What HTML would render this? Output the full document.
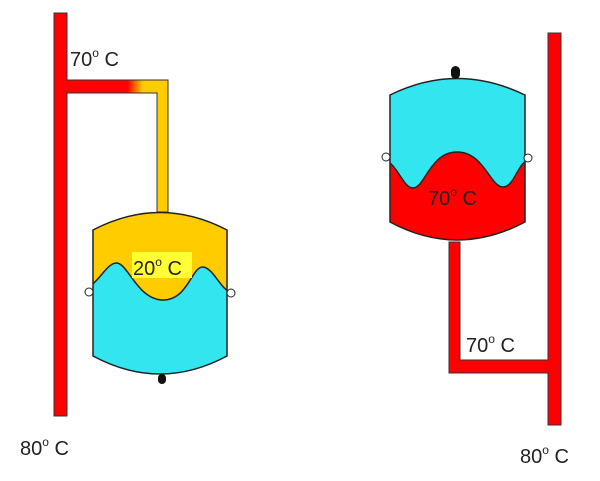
<!DOCTYPE html>
<html><head><style>body{margin:0;background:#fff}svg{display:block}</style></head>
<body>
<svg width="600" height="481" viewBox="0 0 600 481" xmlns="http://www.w3.org/2000/svg" font-family="Liberation Sans, sans-serif">
<defs>
<linearGradient id="g" x1="0" x2="1" y1="0" y2="0">
<stop offset="0" stop-color="#ff0000"/><stop offset="0.6" stop-color="#ff0000"/><stop offset="0.75" stop-color="#ffcc00"/><stop offset="1" stop-color="#ffcc00"/></linearGradient>
<clipPath id="lt"><path d="M93,230 Q160,195 227,230 L227,356 Q160,392 93,356 Z"/></clipPath>
<clipPath id="rt"><path d="M390,95 Q457,62 525,95 L525,222 Q457,258 390,222 Z"/></clipPath>
</defs>
<!-- left side -->
<path d="M54,13 H67 V80 H168 V212 H157 V93 H67 V416 H54 Z" fill="#ff0000" stroke="#333" stroke-width="1"/>
<rect x="67.5" y="80.5" width="100" height="12" fill="url(#g)"/>
<rect x="157.5" y="80.5" width="10" height="131" fill="#ffcc00"/>
<g clip-path="url(#lt)">
<rect x="90" y="200" width="140" height="180" fill="#ffcc00"/>
<path d="M90,286 C100,280 108,262 117,263 C128,264 138,300 163,300 C188,300 192,266 203,267 C213,268 220,288 230,292 L230,380 L90,380 Z" fill="#33e5ef" stroke="#222" stroke-width="1.5"/>
</g>
<path d="M93,230 Q160,195 227,230 L227,356 Q160,392 93,356 Z" fill="none" stroke="#222" stroke-width="1.5"/>
<ellipse cx="89" cy="292" rx="4" ry="4" fill="#fff" stroke="#222"/>
<ellipse cx="231" cy="293" rx="4" ry="4" fill="#fff" stroke="#222"/>
<rect x="158" y="374" width="8" height="10" rx="4" fill="#111"/>
<rect x="132" y="252" width="60" height="26" fill="#ffff33"/>
<text x="133" y="275" font-size="20" fill="#222">20<tspan dy="-9" font-size="12">o</tspan><tspan dy="9"> C</tspan></text>
<text x="70" y="66" font-size="20" fill="#222">70<tspan dy="-9" font-size="12">o</tspan><tspan dy="9"> C</tspan></text>
<text x="20" y="455" font-size="20" fill="#222">80<tspan dy="-9" font-size="12">o</tspan><tspan dy="9"> C</tspan></text>
<!-- right side -->
<path d="M548,33 H561 V425 H548 V373 H449 V242 H460 V360 H548 Z" fill="#ff0000" stroke="#333" stroke-width="1"/>
<g clip-path="url(#rt)">
<rect x="385" y="60" width="145" height="200" fill="#33e5ef"/>
<path d="M385,160 C398,165 403,188 413,188 C425,188 430,152 457,152 C484,152 490,187 503,187 C515,187 518,160 530,160 L530,260 L385,260 Z" fill="#ff0000" stroke="#222" stroke-width="1.5"/>
</g>
<path d="M390,95 Q457,62 525,95 L525,222 Q457,258 390,222 Z" fill="none" stroke="#222" stroke-width="1.5"/>
<ellipse cx="386" cy="157" rx="4" ry="4" fill="#fff" stroke="#222"/>
<ellipse cx="528" cy="158" rx="4" ry="4" fill="#fff" stroke="#222"/>
<rect x="451" y="66" width="9" height="13" rx="4.5" fill="#111"/>
<text x="428" y="205" font-size="20" fill="#222">70<tspan dy="-9" font-size="12">o</tspan><tspan dy="9"> C</tspan></text>
<text x="466" y="352" font-size="20" fill="#222">70<tspan dy="-9" font-size="12">o</tspan><tspan dy="9"> C</tspan></text>
<text x="520" y="463" font-size="20" fill="#222">80<tspan dy="-9" font-size="12">o</tspan><tspan dy="9"> C</tspan></text>
</svg>
</body></html>
